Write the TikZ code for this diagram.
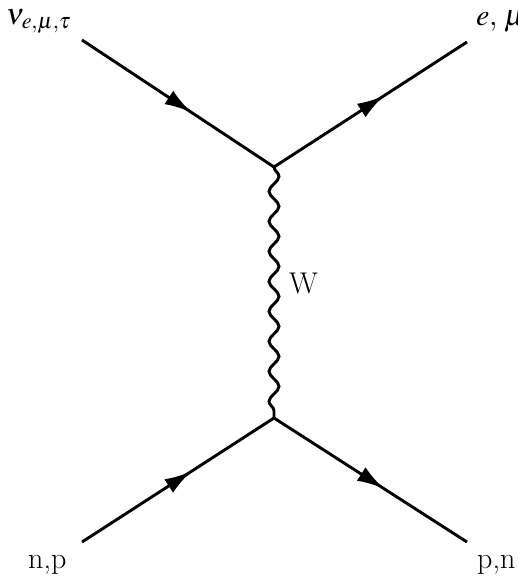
\documentclass[tikz,border=0pt]{standalone}
\usepackage{mathptmx}
\usetikzlibrary{decorations.pathmorphing,decorations.markings,arrows.meta}

\tikzset{
  fermion/.style={line width=2.9pt, postaction={decorate},
    decoration={markings, mark=at position 0.57 with {\arrow{Latex[length=27pt,width=16pt]}}}},
  boson/.style={line width=2.9pt, decorate,
    decoration={snake, segment length=30pt, amplitude=5pt}},
  lbl/.style={font=\fontsize{30}{34}\selectfont, inner sep=0pt, anchor=base west}
}

\begin{document}
\begin{tikzpicture}[x=1pt,y=-1pt]
\useasboundingbox (0,0) rectangle (518,582);
% vertices and external ends
\coordinate (vtop) at (274,167);
\coordinate (vbot) at (274,418);
\coordinate (nuin) at (82,40);
\coordinate (lout) at (467,42);
\coordinate (nin) at (82,542);
\coordinate (pout) at (467,542);
% lines
\draw[fermion] (nuin) -- (vtop);
\draw[fermion] (vtop) -- (lout);
\draw[fermion] (nin) -- (vbot);
\draw[fermion] (vbot) -- (pout);
\draw[boson] (vtop) -- (vbot);
% labels
\node[lbl] (nulbl) at (6,24) {$\nu_{e,\mu,\tau}$};
\node[lbl] (llbl) at (476,25) {$e,\,\mu$};
\node[lbl] (wlbl) at (289,293) {W};
\node[lbl] (nplbl) at (28,568) {n,p};
\node[lbl] (pnlbl) at (477,568) {p,n};
\end{tikzpicture}
\end{document}
